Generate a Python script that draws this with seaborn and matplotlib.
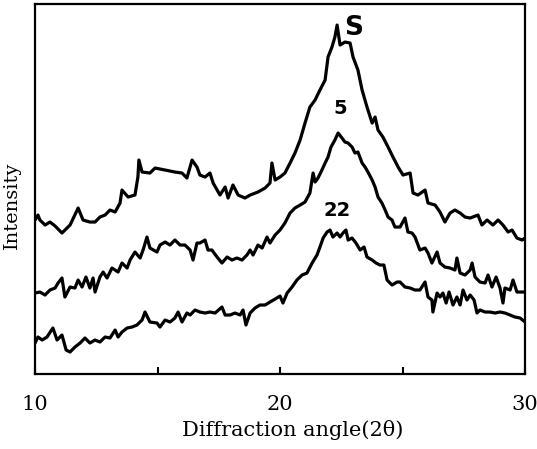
import matplotlib
matplotlib.use("Agg")
import matplotlib.pyplot as plt
import seaborn as sns
import pandas as pd

# ---- data (2theta in degrees, intensity in arbitrary units) ----
s_theta = [10.00, 10.12, 10.20, 10.41, 10.61, 10.82, 11.10, 11.43, 11.76, 11.96, 12.24, 12.45,
           12.65, 12.86, 13.06, 13.27, 13.47, 13.55, 13.80, 14.08, 14.20, 14.24, 14.37, 14.69,
           14.90, 15.31, 15.71, 16.00, 16.20, 16.41, 16.61, 16.73, 16.94, 17.14, 17.27, 17.55,
           17.76, 17.88, 18.08, 18.29, 18.57, 18.78, 19.10, 19.39, 19.59, 19.67, 19.80, 20.00,
           20.20, 20.41, 20.61, 20.82, 21.02, 21.22, 21.43, 21.63, 21.84, 21.96, 22.12, 22.24,
           22.33, 22.45, 22.65, 22.86, 22.98, 23.18, 23.35, 23.55, 23.76, 23.88, 24.00, 24.20,
           24.41, 24.61, 24.82, 25.02, 25.31, 25.43, 25.63, 25.92, 26.04, 26.33, 26.53, 26.73,
           26.94, 27.14, 27.35, 27.55, 27.76, 28.08, 28.24, 28.45, 28.69, 28.90, 29.10, 29.31,
           29.47, 29.67, 29.88, 30.00]
s_int = [154, 159, 154, 149, 152, 148, 141, 149, 166, 154, 152, 152,
         157, 159, 164, 162, 171, 184, 177, 179, 197, 214, 202, 201,
         206, 204, 202, 201, 196, 214, 207, 199, 197, 201, 191, 179,
         187, 176, 189, 179, 176, 179, 182, 186, 191, 211, 194, 197,
         201, 211, 221, 234, 251, 267, 274, 284, 294, 317, 327, 337,
         349, 329, 332, 331, 317, 304, 284, 267, 251, 257, 244, 237,
         227, 217, 207, 199, 201, 181, 179, 184, 171, 169, 162, 152,
         161, 164, 161, 157, 156, 159, 149, 154, 149, 154, 149, 142,
         144, 136, 134, 136]

m_theta = [10.00, 10.20, 10.41, 10.61, 10.82, 10.94, 11.10, 11.22, 11.43, 11.63, 11.76, 11.92,
           12.08, 12.24, 12.37, 12.45, 12.65, 12.78, 12.94, 13.14, 13.39, 13.55, 13.76, 13.88,
           14.08, 14.29, 14.41, 14.57, 14.69, 14.98, 15.10, 15.31, 15.51, 15.71, 15.92, 16.12,
           16.33, 16.45, 16.61, 16.73, 16.94, 17.06, 17.22, 17.43, 17.63, 17.84, 18.04, 18.24,
           18.45, 18.65, 18.78, 18.90, 19.10, 19.27, 19.47, 19.59, 19.80, 20.00, 20.20, 20.41,
           20.61, 20.82, 21.02, 21.22, 21.35, 21.43, 21.55, 21.71, 21.84, 21.96, 22.08, 22.24,
           22.37, 22.53, 22.65, 22.78, 22.94, 23.06, 23.18, 23.35, 23.47, 23.59, 23.76, 23.88,
           24.00, 24.16, 24.29, 24.41, 24.57, 24.69, 24.90, 25.10, 25.22, 25.39, 25.51, 25.71,
           25.92, 26.04, 26.20, 26.41, 26.53, 26.73, 26.94, 27.14, 27.22, 27.35, 27.55, 27.76,
           27.84, 27.96, 28.16, 28.37, 28.49, 28.65, 28.82, 28.98, 29.10, 29.18, 29.39, 29.51,
           29.67, 29.88, 30.00]
m_int = [81, 82, 79, 84, 86, 91, 96, 77, 87, 86, 94, 87,
         97, 86, 96, 82, 97, 102, 96, 106, 102, 111, 106, 114,
         122, 116, 124, 137, 126, 122, 129, 132, 129, 134, 129, 129,
         124, 114, 131, 131, 134, 124, 124, 117, 111, 117, 114, 116,
         114, 119, 124, 119, 129, 126, 137, 131, 139, 144, 151, 161,
         166, 169, 172, 181, 201, 192, 196, 204, 211, 217, 227, 234,
         241, 236, 232, 231, 227, 221, 222, 211, 207, 202, 194, 187,
         177, 171, 164, 157, 154, 147, 147, 156, 142, 141, 137, 124,
         126, 121, 111, 122, 111, 107, 106, 104, 116, 101, 99, 104,
         111, 97, 92, 91, 99, 87, 97, 86, 71, 86, 84, 94,
         82, 82, 82]

b_theta = [10.00, 10.12, 10.29, 10.49, 10.73, 10.90, 11.10, 11.27, 11.43, 11.63, 11.84, 12.04,
           12.24, 12.45, 12.65, 12.86, 13.06, 13.27, 13.39, 13.55, 13.76, 13.96, 14.16, 14.37,
           14.49, 14.69, 14.98, 15.10, 15.31, 15.51, 15.71, 15.84, 16.00, 16.20, 16.33, 16.53,
           16.73, 16.94, 17.14, 17.35, 17.63, 17.76, 17.96, 18.16, 18.37, 18.49, 18.61, 18.78,
           18.98, 19.18, 19.39, 19.59, 19.80, 20.00, 20.12, 20.29, 20.49, 20.69, 20.90, 21.10,
           21.31, 21.51, 21.63, 21.76, 21.92, 22.04, 22.16, 22.33, 22.45, 22.57, 22.69, 22.78,
           22.94, 23.10, 23.27, 23.43, 23.55, 23.76, 23.92, 24.08, 24.24, 24.37, 24.57, 24.78,
           24.90, 25.10, 25.31, 25.51, 25.71, 25.92, 26.04, 26.20, 26.24, 26.41, 26.53, 26.65,
           26.78, 26.90, 27.06, 27.22, 27.35, 27.47, 27.63, 27.76, 27.92, 28.04, 28.16, 28.37,
           28.57, 28.78, 28.98, 29.18, 29.39, 29.59, 29.80, 30.00]
b_int = [31, 37, 34, 37, 46, 34, 39, 24, 22, 27, 31, 36,
         31, 34, 32, 37, 36, 44, 37, 42, 46, 47, 49, 54,
         62, 52, 51, 47, 54, 52, 56, 62, 52, 61, 59, 64,
         62, 61, 62, 61, 67, 59, 59, 61, 59, 64, 49, 61,
         66, 69, 69, 72, 75, 78, 71, 81, 87, 94, 99, 101,
         111, 119, 127, 136, 142, 144, 137, 141, 137, 141, 144, 134,
         136, 131, 124, 127, 117, 114, 111, 109, 109, 94, 89, 92,
         92, 87, 86, 84, 84, 92, 77, 74, 62, 81, 77, 81,
         71, 82, 69, 77, 69, 84, 74, 79, 74, 61, 64, 62,
         62, 61, 62, 61, 59, 57, 56, 52]

sample_labels = ["S", "5", "22"]
x_ticks = [10, 15, 20, 25, 30]
x_tick_labels = ["10", "", "20", "", "30"]

# ---- plotting ----
sns.set_style("white")
plt.rcParams["font.family"] = ["DejaVu Serif"]
plt.rcParams["text.color"] = "black"
plt.rcParams["axes.labelcolor"] = "black"
plt.rcParams["xtick.color"] = "black"

fig = plt.figure(figsize=(5.37, 4.49), dpi=100)
ax = fig.add_axes([0.0652, 0.167, 0.9125, 0.824])

for th, it in [(s_theta, s_int), (m_theta, m_int), (b_theta, b_int)]:
    df = pd.DataFrame({"two_theta": th, "intensity": it})
    sns.lineplot(data=df, x="two_theta", y="intensity", ax=ax, color="black",
                 linewidth=2.3, estimator=None, sort=False)

ax.set_xlim(10, 30)
ax.set_ylim(0, 370)
ax.set_xticks(x_ticks)
ax.set_xticklabels(x_tick_labels, fontsize=15)
ax.set_yticks([])
ax.tick_params(axis="x", direction="in", length=5, width=1.5, pad=15,
               colors="black", bottom=True)

for sp in ax.spines.values():
    sp.set_color("black")
    sp.set_linewidth(1.6)

ax.set_xlabel("Diffraction angle(2θ)", fontsize=15)
ax.xaxis.set_label_coords(0.525, -0.125)
ax.set_ylabel("Intensity", fontsize=14)
ax.yaxis.set_label_coords(-0.029, 0.455)

label_font = ["DejaVu Sans"]
ax.text(23.02, 346, sample_labels[0], fontsize=19, fontweight="bold", family=label_font,
        ha="center", va="center", color="black")
ax.text(22.45, 266, sample_labels[1], fontsize=14, fontweight="bold", family=label_font,
        ha="center", va="center", color="black")
ax.text(22.33, 164, sample_labels[2], fontsize=14, fontweight="bold", family=label_font,
        ha="center", va="center", color="black")

fig.savefig("out.png", dpi=100)
